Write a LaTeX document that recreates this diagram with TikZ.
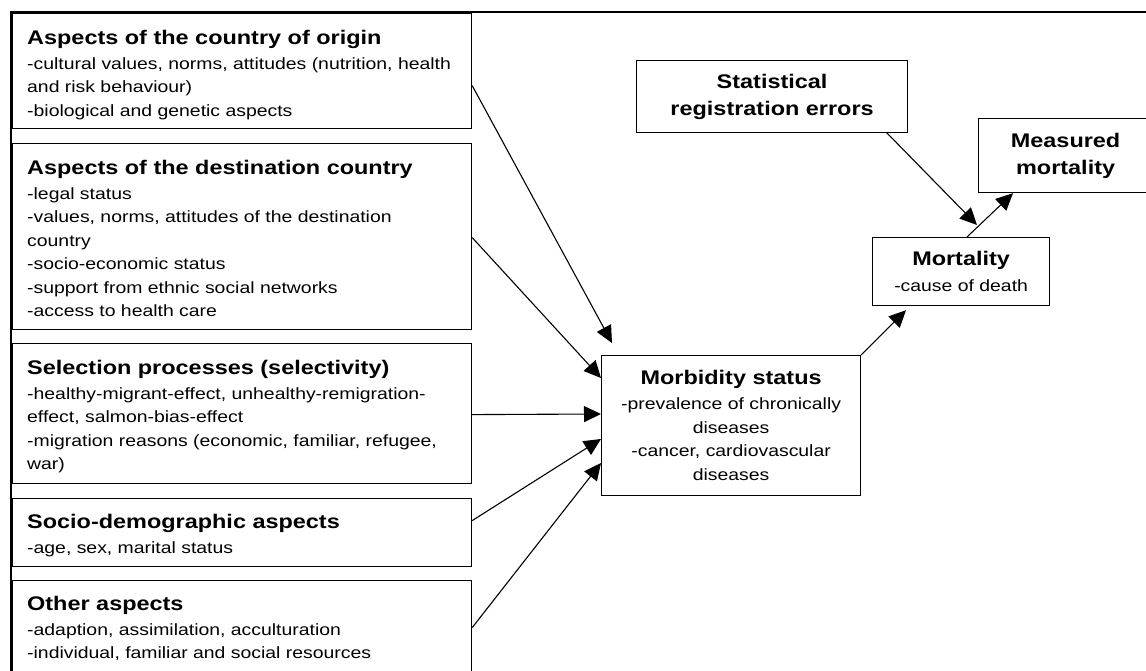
\documentclass[tikz,border=0pt]{standalone}
\usepackage{fontspec}
\setmainfont{Liberation Sans}[FakeStretch=1.19]
\usetikzlibrary{arrows.meta,calc}
\newcommand{\hd}{\fontsize{19.7}{23.5}\selectfont\bfseries}
\tikzset{
  frameline/.style={line width=1.6pt},
  box/.style={draw, line width=1.2pt, rectangle, inner sep=0pt, anchor=north west},
  lefttext/.style={anchor=north west, inner sep=0pt, align=left,
    font=\fontsize{16.3}{23.5}\selectfont},
  centertext/.style={align=center, font=\fontsize{16.3}{23.5}\selectfont},
  boldtext/.style={align=center, font=\fontsize{19.7}{27}\selectfont\bfseries},
  arr/.style={line width=1.1pt, -{Triangle[length=17pt,width=16pt]}}
}
\begin{document}
\begin{tikzpicture}[x=1pt,y=-1pt]
\useasboundingbox (0,0) rectangle (1146,671);
\clip (0,0) rectangle (1146,671);
% frame
\draw[frameline] (1150,12) -- (11,12) -- (11,680);
% left boxes
\node[box, minimum width=459pt, minimum height=115pt] (b1) at (12,13) {};
\node[box, minimum width=459pt, minimum height=186pt] (b2) at (12,143) {};
\node[box, minimum width=459pt, minimum height=140pt] (b3) at (12,343) {};
\node[box, minimum width=459pt, minimum height=68pt] (b4) at (12,498) {};
\node[box, minimum width=459pt, minimum height=110pt] (b5) at (12,580) {};
\node[lefttext] (t1) at (27,29.7) {{\hd Aspects of the country of origin}\\[1.5pt]
  -cultural values, norms, attitudes (nutrition, health\\
  and risk behaviour)\\
  -biological and genetic aspects};
\node[lefttext] (t2) at (27,159.7) {{\hd Aspects of the destination country}\\[1.5pt]
  -legal status\\
  -values, norms, attitudes of the destination\\
  country\\
  -socio-economic status\\
  -support from ethnic social networks\\
  -access to health care};
\node[lefttext] (t3) at (27,359.7) {{\hd Selection processes (selectivity)}\\[1.5pt]
  -healthy-migrant-effect, unhealthy-remigration-\\
  effect, salmon-bias-effect\\
  -migration reasons (economic, familiar, refugee,\\
  war)};
\node[lefttext] (t4) at (27,513.7) {{\hd Socio-demographic aspects}\\[1.5pt]
  -age, sex, marital status};
\node[lefttext] (t5) at (27,595.7) {{\hd Other aspects}\\[1.5pt]
  -adaption, assimilation, acculturation\\
  -individual, familiar and social resources};
% right boxes
\node[box, centertext, minimum width=259pt, minimum height=140pt] (mb) at (601,355)
  {{\hd Morbidity status}\\[1.5pt]
   -prevalence of chronically\\ diseases\\ -cancer, cardiovascular\\ diseases};
\node[box, centertext, minimum width=177pt, minimum height=68pt] (mo) at (872,237)
  {{\hd Mortality}\\[2.5pt] -cause of death};
\node[box, boldtext, minimum width=271pt, minimum height=72pt] (st) at (636,60)
  {Statistical\\registration errors};
\node[box, boldtext, minimum width=174pt, minimum height=74pt] (me) at (978,118)
  {Measured\\mortality};
% connectors
\draw[arr] ($(b1.east)+(0,14.5)$) -- ($(mb.north west)+(11,-12)$);
\draw[arr] ($(b2.east)+(0,1)$) -- ($(mb.north west)+(0,23)$);
\draw[arr] ($(b3.east)+(0,1)$) -- ($(mb.north west)+(0,59)$);
\draw[arr] ($(b4.east)+(0,-12)$) -- ($(mb.north west)+(0,84)$);
\draw[arr] ($(b5.east)+(0,-8)$) -- ($(mb.north west)+(0,108)$);
\draw[arr] (mb.north east) -- ($(mo.south west)+(34,4)$);
\draw[arr] ($(st.south east)+(-22,-1)$) -- ($(mo.north west)+(105,-12)$);
\draw[arr] ($(mo.north west)+(95,0)$) -- ($(me.south west)+(35,0)$);
\end{tikzpicture}
\end{document}
